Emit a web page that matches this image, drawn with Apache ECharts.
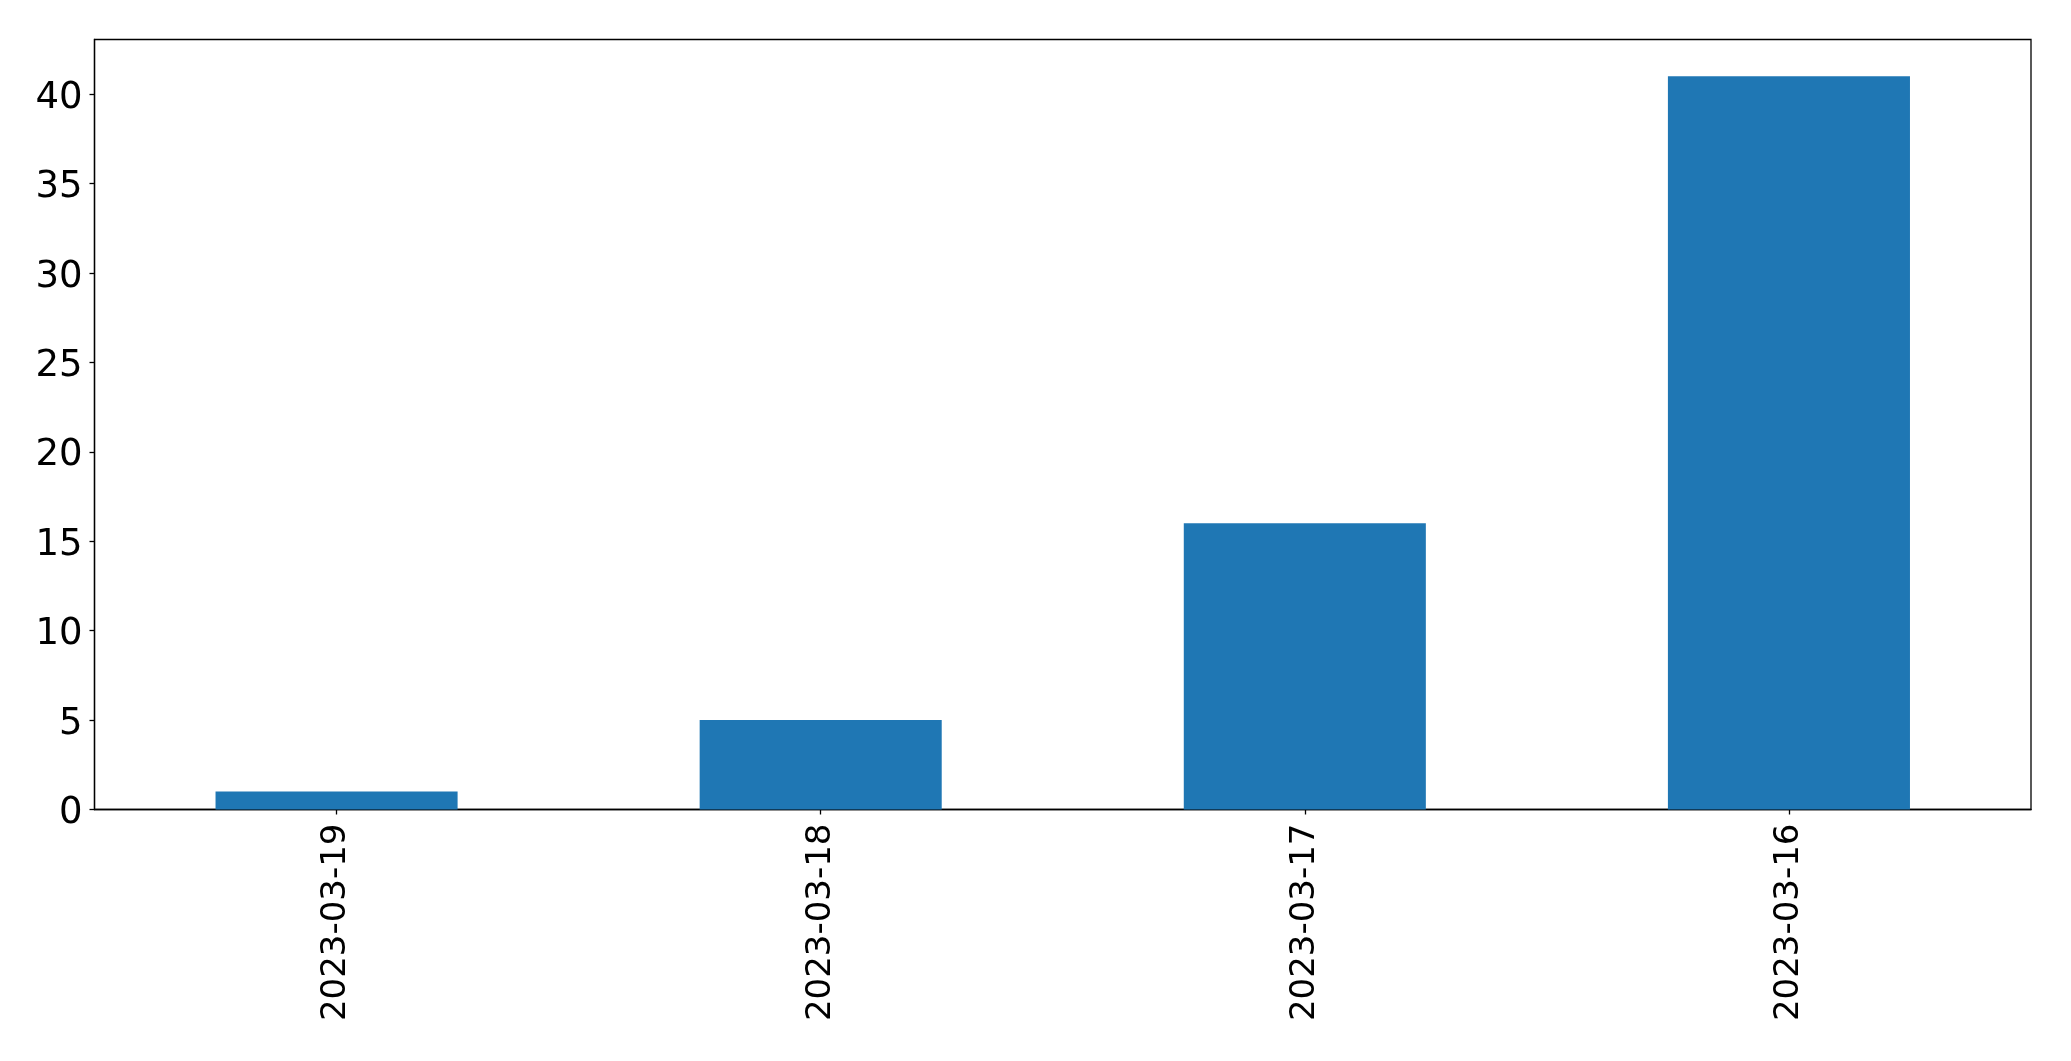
<!DOCTYPE html>
<html>
<head>
<meta charset="utf-8">
<script src="https://cdn.jsdelivr.net/npm/echarts@6/dist/echarts.min.js"></script>
<style>
html,body{margin:0;padding:0;background:#fff;}
#chart{width:2071px;height:1061px;}
</style>
</head>
<body>
<div id="chart"></div>
<script>
const categories = ['2023-03-19', '2023-03-18', '2023-03-17', '2023-03-16'];
const values = [1, 5, 16, 41];
const yTicks = [0, 5, 10, 15, 20, 25, 30, 35, 40];

const FONT = 'DejaVu Sans';
const chart = echarts.init(document.getElementById('chart'), null, {renderer: 'canvas'});
chart.setOption({
  animation: false,
  backgroundColor: '#ffffff',
  grid: {
    left: 94.5, right: 40, top: 39.5, bottom: 251.5,
    show: true, borderColor: '#000', borderWidth: 1.3, backgroundColor: 'transparent'
  },
  xAxis: {
    type: 'category',
    data: categories,
    boundaryGap: true,
    axisLine: {show: true, lineStyle: {color: '#000', width: 1.3}},
    axisTick: {show: true, alignWithLabel: true, length: 5, lineStyle: {color: '#000', width: 1.3}},
    axisLabel: {rotate: 90, fontFamily: FONT, fontSize: 34, color: '#000', margin: 14}
  },
  yAxis: {
    type: 'value',
    min: 0,
    max: 43.05,
    interval: 5,
    splitLine: {show: false},
    axisLine: {show: true, lineStyle: {color: '#000', width: 1.3}},
    axisTick: {show: true, length: 5, customValues: yTicks, lineStyle: {color: '#000', width: 1.3}},
    axisLabel: {
      fontFamily: FONT, fontSize: 37, color: '#000', margin: 12, customValues: yTicks,
      formatter: function (v) { return '{a|' + v + '}'; },
      rich: {a: {fontFamily: FONT, fontSize: 37, color: '#000', padding: [8, 0, 0, 0]}}
    }
  },
  series: [{
    type: 'bar',
    data: values,
    barWidth: '50%',
    itemStyle: {color: '#1f77b4'}
  }]
});
</script>
</body>
</html>
